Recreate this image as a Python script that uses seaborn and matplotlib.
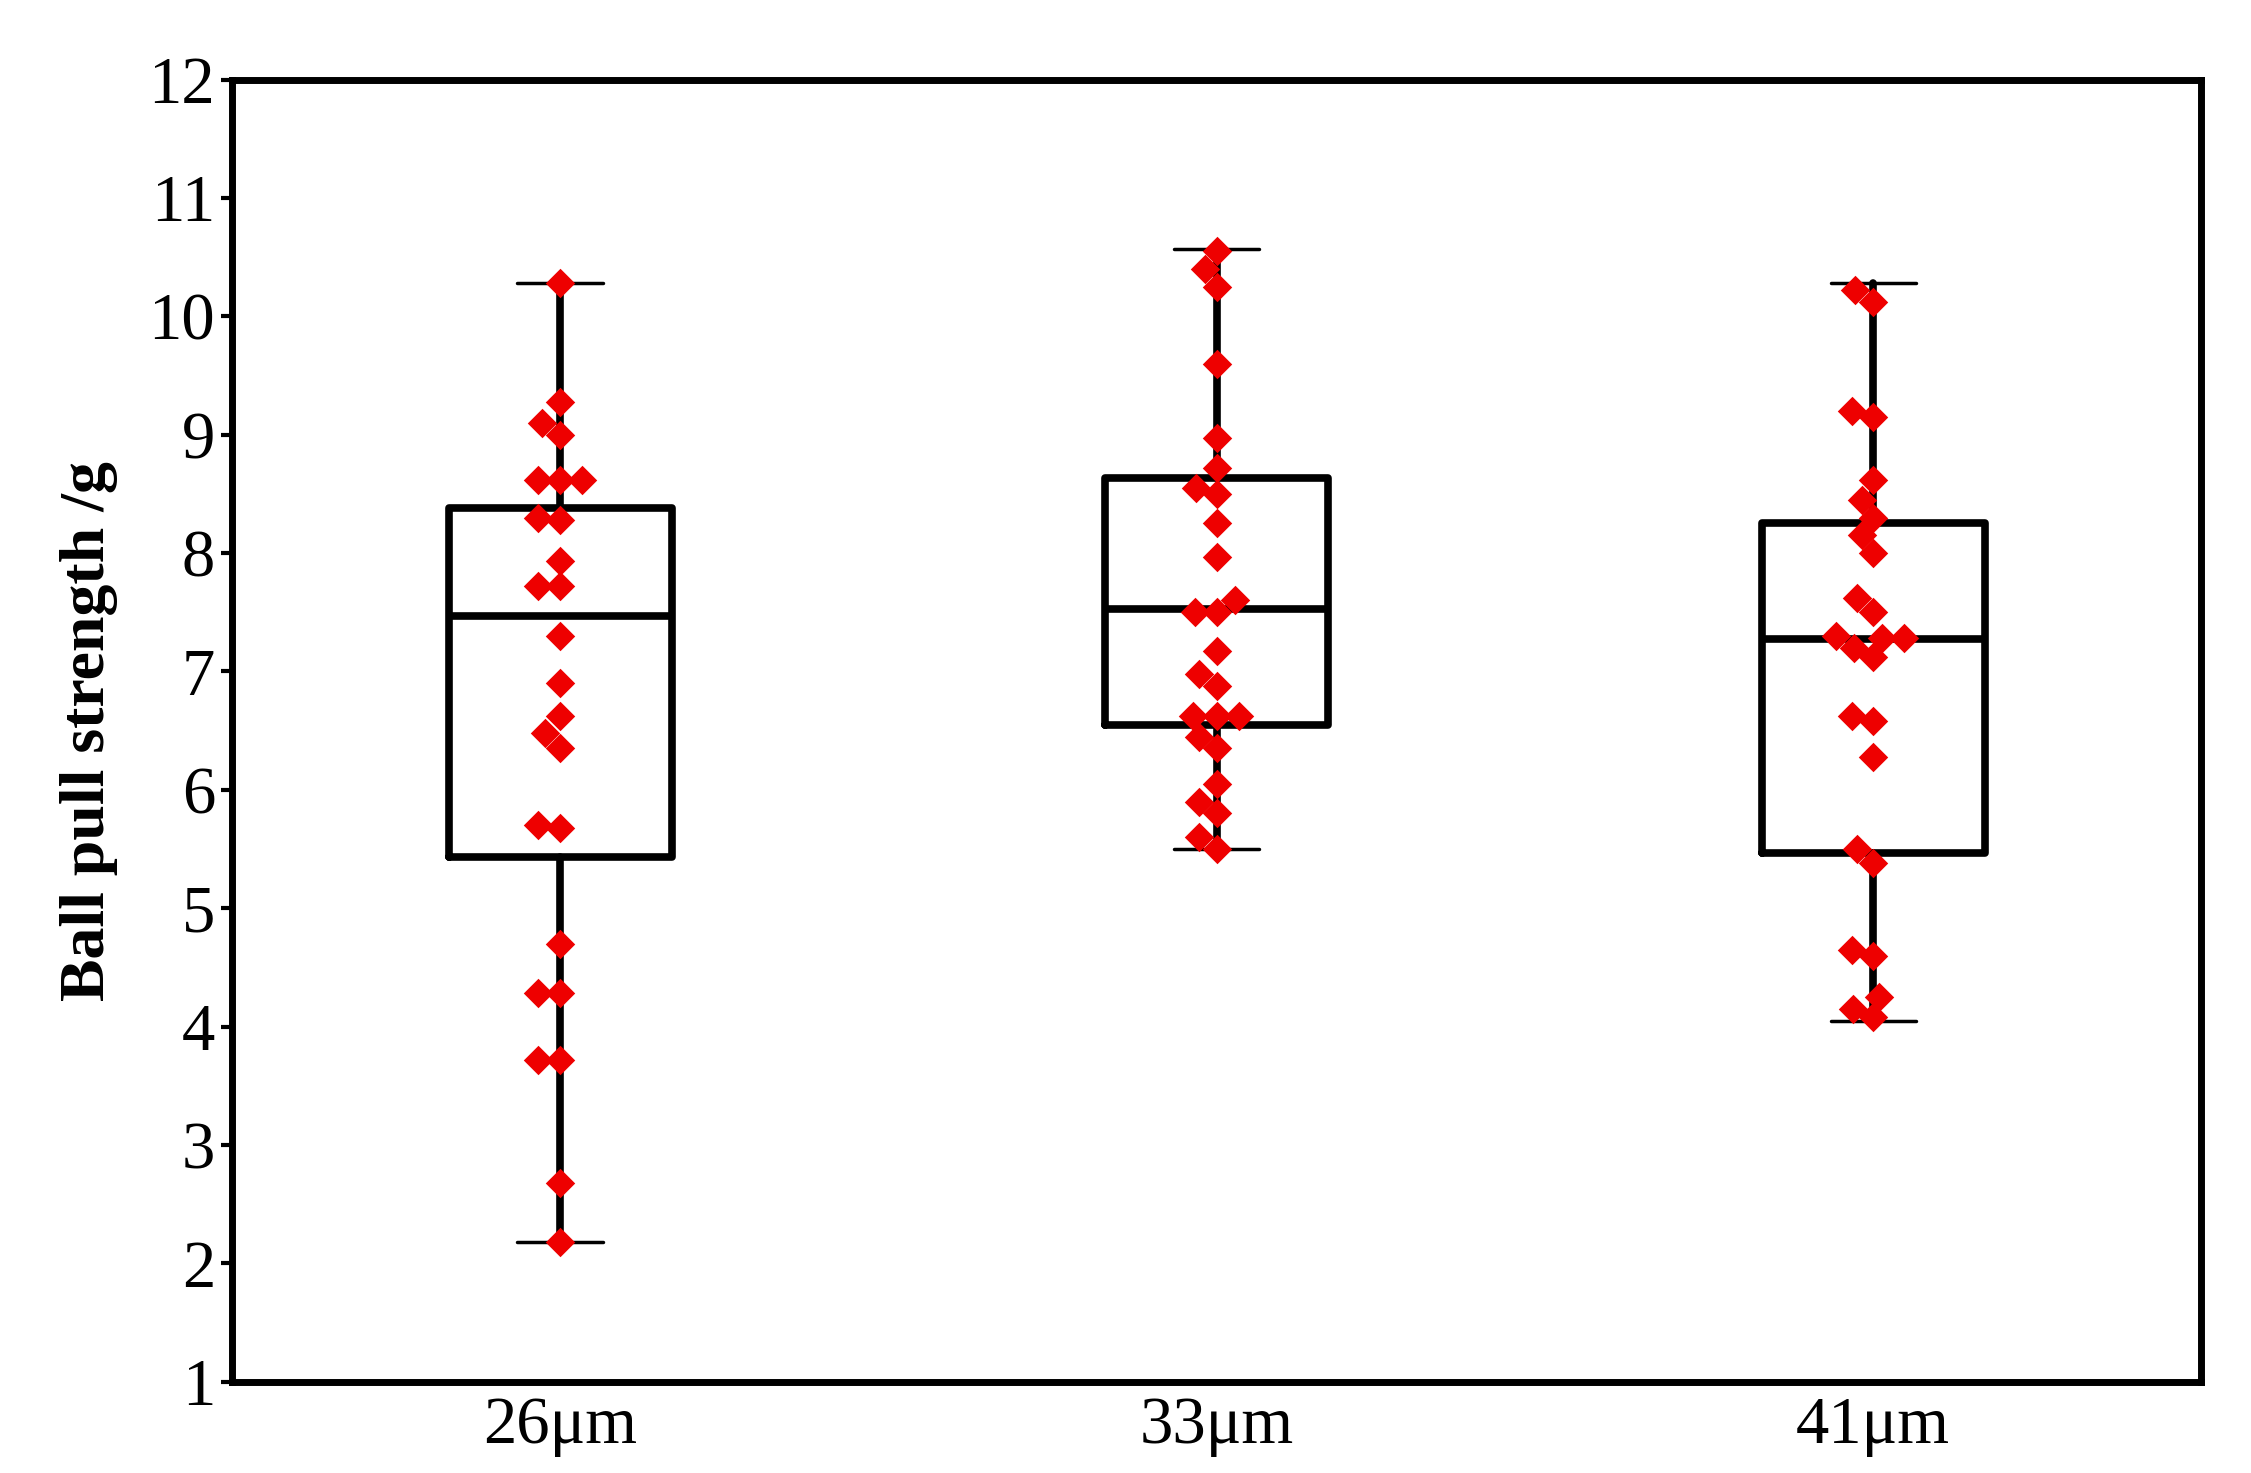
import numpy as np
import pandas as pd
import seaborn as sns
import matplotlib.pyplot as plt

# Wire diameters and ball pull strength readings (g)
groups = ['26μm', '33μm', '41μm']
g26 = [10.28, 9.28, 9.1, 9.0, 8.62, 8.62, 8.62, 8.3, 8.28, 7.93, 7.72, 7.72, 7.3,
       6.9, 6.62, 6.48, 6.35, 5.7, 5.68, 4.7, 4.28, 4.28, 3.72, 3.72, 2.68, 2.18]
g33 = [10.55, 10.4, 10.25, 9.6, 8.97, 8.72, 8.55, 8.5, 8.25, 7.97, 7.6, 7.5, 7.5,
       7.17, 6.98, 6.88, 6.62, 6.62, 6.62, 6.45, 6.35, 6.05, 5.9, 5.8, 5.6, 5.5]
g41 = [10.22, 10.12, 9.2, 9.15, 8.62, 8.45, 8.3, 8.15, 8.0, 7.62, 7.5, 7.3, 7.28,
       7.28, 7.2, 7.12, 6.62, 6.58, 6.28, 5.5, 5.38, 4.65, 4.6, 4.25, 4.15, 4.08]

# Box statistics as shown in the figure
whislo = [2.18, 5.5, 4.05]
q1 = [5.43, 6.55, 5.47]
med = [7.47, 7.53, 7.27]
q3 = [8.38, 8.63, 8.25]
whishi = [10.28, 10.57, 10.28]

df = pd.DataFrame({'group': np.repeat(groups, [len(g26), len(g33), len(g41)]),
                   'value': g26 + g33 + g41})

sns.set_style('ticks')
plt.rcParams['font.family'] = ['Liberation Serif', 'DejaVu Serif']
plt.rcParams['text.color'] = 'black'
plt.rcParams['axes.labelcolor'] = 'black'
plt.rcParams['xtick.color'] = 'black'
plt.rcParams['ytick.color'] = 'black'

fig, ax = plt.subplots(figsize=(22.51, 14.73), dpi=100)
fig.subplots_adjust(left=0.103, right=0.989 - 0.011, top=0.946, bottom=0.062)

stats = [dict(whislo=whislo[i], q1=q1[i], med=med[i], q3=q3[i], whishi=whishi[i], fliers=[])
         for i in range(len(groups))]
lw = 5.5
ax.bxp(stats, positions=range(len(groups)), widths=0.34, patch_artist=False,
       boxprops=dict(color='black', linewidth=lw),
       medianprops=dict(color='black', linewidth=lw),
       whiskerprops=dict(color='black', linewidth=lw),
       capprops=dict(color='black', linewidth=2.5), capwidths=0.13)

sns.swarmplot(data=df, x='group', y='value', order=groups, marker='D', color='#ee0000',
              size=15, linewidth=0, ax=ax, zorder=3)

ax.set_xlim(-0.5, 2.5)
ax.set_ylim(1, 12)
ax.set_yticks(range(1, 13))
ax.set_xticks(range(len(groups)))
ax.set_xticklabels(groups)
ax.set_xlabel('')
ax.set_ylabel('Ball pull strength /g', fontsize=46, fontweight='bold', labelpad=22)
ax.tick_params(axis='both', labelsize=48, width=3, length=8)
ax.tick_params(axis='x', length=0, pad=10)
ax.tick_params(axis='y', pad=4)
for s in ax.spines.values():
    s.set_linewidth(5)
    s.set_color('black')
    s.set_visible(True)

plt.savefig('out.png', dpi=100)
